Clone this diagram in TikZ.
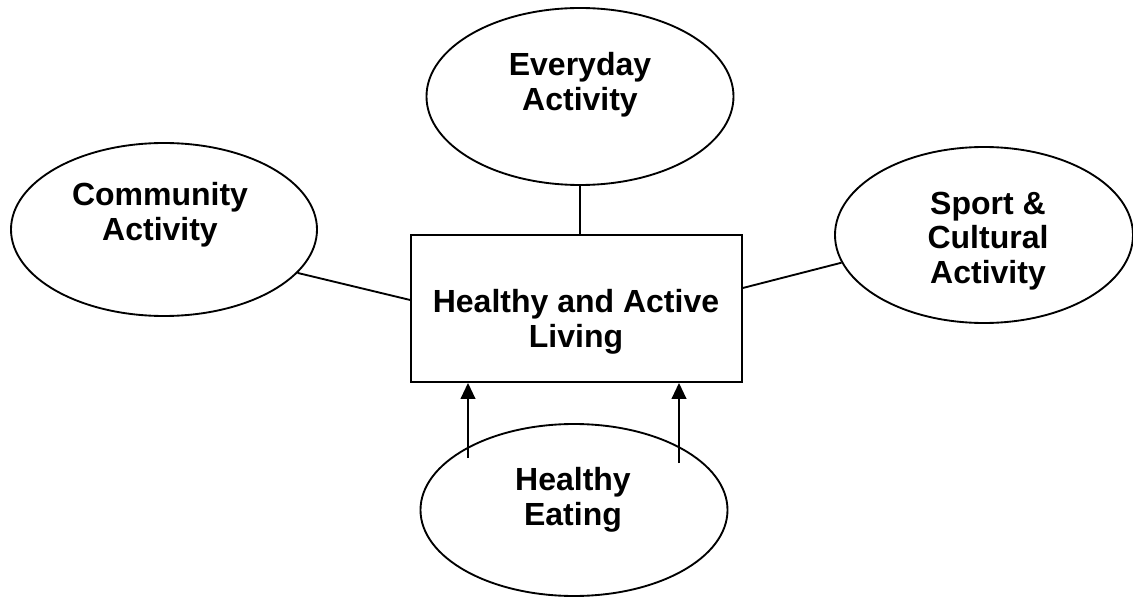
\documentclass[tikz,border=0pt]{standalone}
\usepackage{fontspec}
\setmainfont{Liberation Sans}
\usetikzlibrary{shapes.geometric, arrows.meta, positioning}

\begin{document}
\begin{tikzpicture}[
    x=0.75pt, y=-0.75pt,
    every node/.style={font=\fontsize{24}{26}\selectfont\bfseries},
    bubble/.style={ellipse, draw, line width=1.4pt, inner sep=0pt},
    box/.style={rectangle, draw, line width=1.4pt, inner sep=0pt,
                minimum width=248.25pt, minimum height=110.25pt},
    lbl/.style={align=center, inner sep=0pt},
    link/.style={line width=1.4pt},
    arrow/.style={-{Triangle[length=12pt, width=11pt]}, line width=1.4pt}
]
\useasboundingbox (0,0) rectangle (1133,599);

% Centre
\node[box] (live) at (576.5,308.5) {};
\node[lbl] (livetxt) at (576,322) {Healthy and Active\\Living};

% Activities
\node[bubble, minimum width=230.25pt, minimum height=132.75pt] (every) at (580,96.5) {};
\node[lbl] (everytxt) at (580,85) {Everyday\\Activity};
\node[bubble, minimum width=229.5pt, minimum height=129.75pt] (comm) at (164,229.5) {};
\node[lbl] (commtxt) at (160,215) {Community\\Activity};
\node[bubble, minimum width=223.5pt, minimum height=132pt] (sport) at (984,235) {};
\node[lbl] (sporttxt) at (988,241) {Sport \&\\Cultural\\Activity};
\node[bubble, minimum width=230.25pt, minimum height=129pt] (eat) at (574,510) {};
\node[lbl] (eattxt) at (573,500) {Healthy\\Eating};

% Links
\draw[link] (every.south) -- (every.south |- live.north);
\draw[link] (comm.-18) -- ([yshift=6.4pt]live.west);
\draw[link] (sport.191) -- ([yshift=15.4pt]live.east);

% Arrows
\coordinate (eatl) at (468,458);
\coordinate (eatr) at (679,463);
\draw[arrow] (eatl) -- (eatl |- live.south);
\draw[arrow] (eatr) -- (eatr |- live.south);

\end{tikzpicture}
\end{document}
